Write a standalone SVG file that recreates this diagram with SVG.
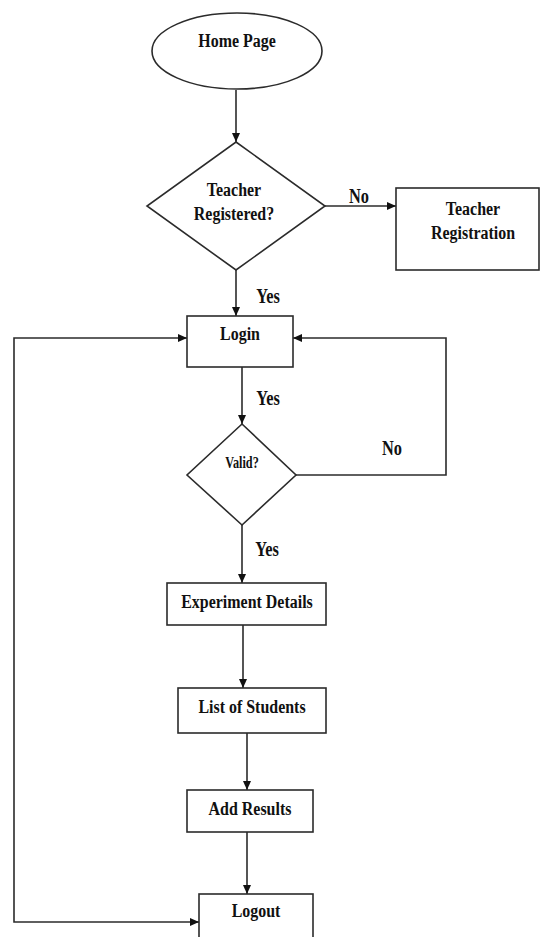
<svg xmlns="http://www.w3.org/2000/svg" width="541" height="937" viewBox="0 0 541 937">
<style>
.s{fill:#fff;stroke:#2b2b2b;stroke-width:1.6}
.c{fill:none;stroke:#2b2b2b;stroke-width:1.6}
.t{font-family:'Liberation Serif','Times New Roman',serif;font-weight:bold;font-size:19px;fill:#111;text-anchor:middle}
.l{font-family:'Liberation Serif','Times New Roman',serif;font-weight:bold;font-size:21px;fill:#111;text-anchor:middle}
</style>
<defs>
<marker id="a" markerWidth="10" markerHeight="10" refX="9" refY="5" orient="auto" markerUnits="userSpaceOnUse">
<path d="M0,1 L9,5 L0,9 Z" fill="#111"/>
</marker>
</defs>
<rect width="541" height="937" fill="#fff"/>
<g id="connectors">
<path class="c" d="M236,90 V142" marker-end="url(#a)"/>
<path class="c" d="M325,206 H396" marker-end="url(#a)"/>
<path class="c" d="M236,270 V316" marker-end="url(#a)"/>
<path class="c" d="M242,367 V424" marker-end="url(#a)"/>
<path class="c" d="M296,475 H446 V338 H293" marker-end="url(#a)"/>
<path class="c" d="M242,525 V583" marker-end="url(#a)"/>
<path class="c" d="M243,625 V688" marker-end="url(#a)"/>
<path class="c" d="M247,733 V790" marker-end="url(#a)"/>
<path class="c" d="M247,832 V894" marker-end="url(#a)"/>
<path class="c" d="M14,630 V338 H187" marker-end="url(#a)"/>
<path class="c" d="M14,630 V922 H199" marker-end="url(#a)"/>
<text class="l" transform="translate(359,203) scale(0.78,1)">No</text>
<text class="l" transform="translate(268,303) scale(0.78,1)">Yes</text>
<text class="l" transform="translate(268,405) scale(0.78,1)">Yes</text>
<text class="l" transform="translate(392,455) scale(0.78,1)">No</text>
<text class="l" transform="translate(267,556) scale(0.78,1)">Yes</text>
</g>
<g id="home">
<ellipse class="s" cx="237" cy="51" rx="85" ry="38"/>
<text class="t" transform="translate(237,47) scale(0.84,1)">Home Page</text>
</g>
<g id="registered">
<path class="s" d="M236,142 L325,206 L236,270 L147,206 Z"/>
<text class="t" transform="translate(234,196) scale(0.84,1)">Teacher</text>
<text class="t" transform="translate(234,220) scale(0.84,1)">Registered?</text>
</g>
<g id="registration">
<rect class="s" x="396" y="188" width="143" height="82"/>
<text class="t" transform="translate(473,215) scale(0.84,1)">Teacher</text>
<text class="t" transform="translate(473,239) scale(0.84,1)">Registration</text>
</g>
<g id="login">
<rect class="s" x="187" y="316" width="106" height="51"/>
<text class="t" transform="translate(240,340) scale(0.84,1)">Login</text>
</g>
<g id="valid">
<path class="s" d="M242,424 L296,475 L242,525 L187,475 Z"/>
<text class="t" transform="translate(242,468) scale(0.72,1)" style="font-size:17px">Valid?</text>
</g>
<g id="experiment">
<rect class="s" x="167" y="583" width="159" height="42"/>
<text class="t" transform="translate(247,608) scale(0.84,1)">Experiment Details</text>
</g>
<g id="students">
<rect class="s" x="178" y="688" width="148" height="45"/>
<text class="t" transform="translate(252,713) scale(0.84,1)">List of Students</text>
</g>
<g id="results">
<rect class="s" x="187" y="790" width="126" height="42"/>
<text class="t" transform="translate(250,815) scale(0.84,1)">Add Results</text>
</g>
<g id="logout">
<rect class="s" x="199" y="894" width="114" height="60"/>
<text class="t" transform="translate(256,917) scale(0.84,1)">Logout</text>
</g>
</svg>
